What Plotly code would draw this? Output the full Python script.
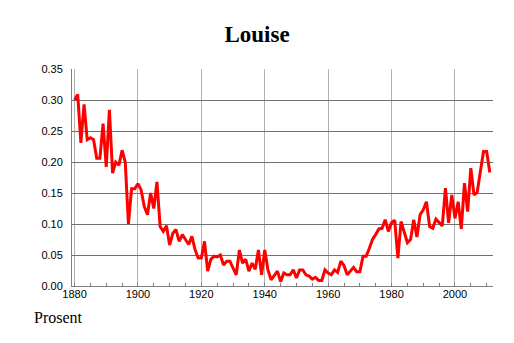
import plotly.graph_objects as go

years = list(range(1880, 2012))
values = [
    0.300, 0.309, 0.231, 0.293, 0.236, 0.239, 0.236, 0.206, 0.206, 0.262,  # 1880-1889
    0.192, 0.284, 0.182, 0.200, 0.195, 0.219, 0.200, 0.100, 0.157, 0.157,  # 1890-1899
    0.165, 0.155, 0.128, 0.115, 0.150, 0.125, 0.168, 0.096, 0.088, 0.097,  # 1900-1909
    0.066, 0.085, 0.091, 0.072, 0.083, 0.075, 0.067, 0.080, 0.059, 0.045,  # 1910-1919
    0.045, 0.072, 0.024, 0.043, 0.048, 0.047, 0.050, 0.034, 0.040, 0.040,  # 1920-1929
    0.029, 0.018, 0.058, 0.037, 0.043, 0.024, 0.037, 0.027, 0.058, 0.018,  # 1930-1939
    0.058, 0.026, 0.010, 0.018, 0.024, 0.007, 0.021, 0.018, 0.018, 0.026,  # 1940-1949
    0.013, 0.026, 0.026, 0.018, 0.016, 0.011, 0.014, 0.009, 0.009, 0.026,  # 1950-1959
    0.021, 0.018, 0.026, 0.022, 0.040, 0.033, 0.018, 0.024, 0.030, 0.023,  # 1960-1969
    0.023, 0.048, 0.048, 0.061, 0.075, 0.083, 0.092, 0.093, 0.107, 0.088,  # 1970-1979
    0.102, 0.106, 0.045, 0.104, 0.086, 0.070, 0.075, 0.107, 0.079, 0.115,  # 1980-1989
    0.123, 0.136, 0.096, 0.093, 0.108, 0.102, 0.097, 0.158, 0.102, 0.147,  # 1990-1999
    0.109, 0.136, 0.092, 0.166, 0.120, 0.190, 0.147, 0.151, 0.182, 0.217,  # 2000-2009
    0.217, 0.183,                                                          # 2010-2011
]

x_ticks = [1880, 1900, 1920, 1940, 1960, 1980, 2000]
y_ticks = [0.00, 0.05, 0.10, 0.15, 0.20, 0.25, 0.30, 0.35]

fig = go.Figure()
fig.add_trace(go.Scatter(
    x=years, y=values, mode="lines",
    line=dict(color="#ff0000", width=3),
    hoverinfo="skip", showlegend=False,
))

fig.update_layout(
    width=514, height=343,
    margin=dict(l=72, r=21, t=69, b=57),
    paper_bgcolor="white", plot_bgcolor="white",
    title=dict(text="<b>Louise</b>", x=0.5, xanchor="center", y=1 - 34 / 343, yanchor="middle",
               font=dict(family="Liberation Serif", size=23, color="black")),
    font=dict(family="Liberation Sans", size=11, color="black"),
    annotations=[dict(text="Prosent", xref="paper", yref="paper",
                      x=-72 / 421 + 32 / 421, xanchor="left",
                      y=-(317 - 286) / 217, yanchor="middle", showarrow=False,
                      font=dict(family="Liberation Serif", size=16, color="black"))],
)
fig.update_xaxes(
    range=[1879.2, 2012], tickvals=x_ticks, ticktext=[str(v) for v in x_ticks],
    showgrid=True, gridcolor="#b0b0b0", gridwidth=1,
    showline=True, linecolor="#808080", linewidth=1,
    ticks="", zeroline=False, ticklabelstandoff=-2,
    minor=dict(tickmode="linear", tick0=1880, dtick=5, ticks="inside", ticklen=3,
               tickcolor="#808080", showgrid=False),
)
fig.update_yaxes(
    range=[0, 0.35], tickvals=y_ticks, ticktext=[f"{v:.2f}" for v in y_ticks],
    showgrid=True, gridcolor="#707070", gridwidth=1,
    showline=True, linecolor="#808080", linewidth=1,
    ticks="", zeroline=False, ticklabelstandoff=6,
)

fig.write_html("out.html")
